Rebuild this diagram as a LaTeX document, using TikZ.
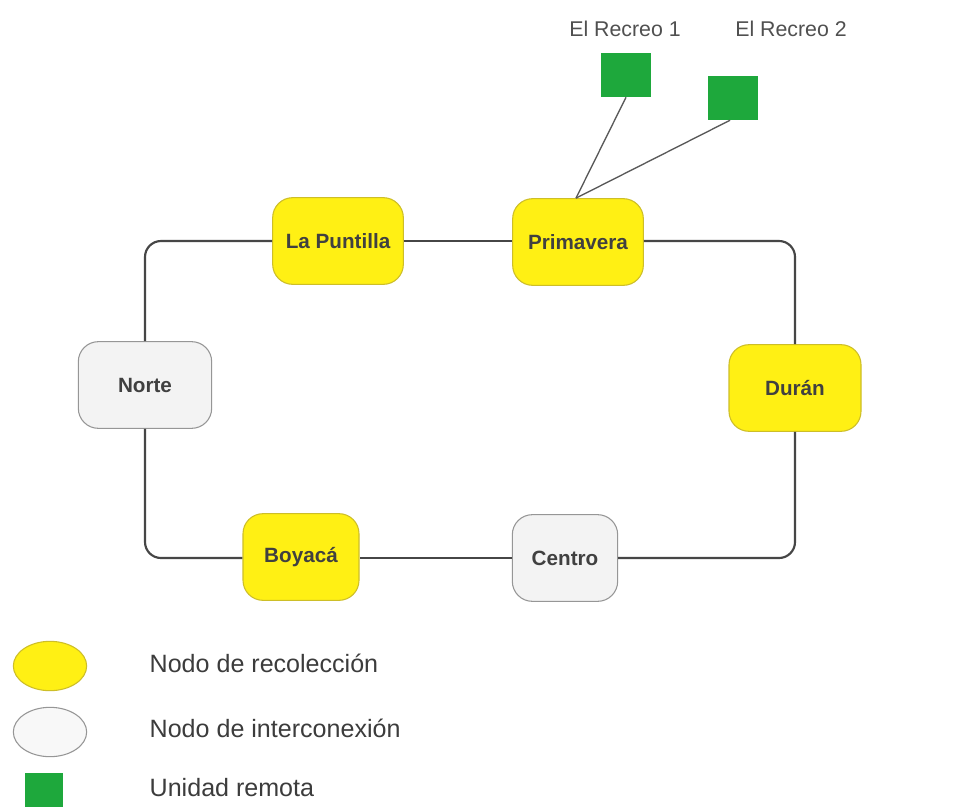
\documentclass[tikz,border=0pt]{standalone}
\usepackage{fontspec}
\setmainfont{Liberation Sans}
\usepackage{xcolor}
\usetikzlibrary{shapes,positioning,calc}

\definecolor{recoleccion}{RGB}{255,240,20}
\definecolor{recolBorde}{RGB}{205,190,40}
\definecolor{interconexion}{RGB}{243,243,243}
\definecolor{interBorde}{RGB}{150,150,150}
\definecolor{remota}{RGB}{30,168,60}
\definecolor{enlace}{RGB}{70,70,70}
\definecolor{texto}{RGB}{60,60,60}

\begin{document}
\begin{tikzpicture}[x=0.75pt, y=-0.75pt,
    recol/.style={draw=recolBorde, line width=0.8pt, fill=recoleccion, rounded corners=15pt,
        minimum height=65pt, font=\fontsize{15.5}{18}\selectfont\bfseries, text=black!75},
    inter/.style={draw=interBorde, line width=0.8pt, fill=interconexion, rounded corners=15pt,
        minimum height=65pt, font=\fontsize{15.5}{18}\selectfont\bfseries, text=black!75},
    remotabox/.style={fill=remota, minimum width=37pt, minimum height=33pt, inner sep=0pt},
    enlacebus/.style={draw=enlace, line width=1.6pt, rounded corners=12pt},
    enlacerem/.style={draw=enlace!90, line width=1pt},
    rotulo/.style={font=\fontsize{16}{19}\selectfont, text=texto!90}]
            \fill[white] (0,0) rectangle (977,806);
            \useasboundingbox (0,0) rectangle (977,806);
            \node (puntilla) at (338,241) [recol, minimum width=98pt] {La Puntilla};
            \node (primavera) at (578,242) [recol, minimum width=98pt] {Primavera};
            \node (norte) at (145,385) [inter, minimum width=100pt] {Norte};
            \node (duran) at (795,388) [recol, minimum width=99pt] {Durán};
            \node (boyaca) at (301,557) [recol, minimum width=87pt] {Boyacá};
            \node (centro) at (565,558) [inter, minimum width=79pt] {Centro};
            \draw[enlacebus] (norte.north) |- (puntilla.west);
            \draw[enlacebus] (puntilla.east) -- (primavera.west |- puntilla.east);
            \draw[enlacebus] (primavera.east |- puntilla.east) -| (duran.north);
            \draw[enlacebus] (duran.south) |- (centro.east);
            \draw[enlacebus] (centro.west) -- (boyaca.east |- centro.west);
            \draw[enlacebus] (boyaca.west |- centro.west) -| (norte.south);
            \node (recreoA) at (626,75) [remotabox] {};
            \node (recreoB) at (733,98) [remotabox] {};
            \node at (625,29) [rotulo] {El Recreo 1};
            \node at (791,29) [rotulo] {El Recreo 2};
            \draw[enlacerem] (recreoA.south) -- ($(primavera.north)+(-2,0)$);
            \draw[enlacerem] ($(recreoB.south)+(-3,0)$) -- ($(primavera.north)+(-2,0)$);
            \node (leyA) at (50,666) [ellipse, draw=recolBorde, line width=0.8pt, fill=recoleccion,
                minimum width=55pt, minimum height=37pt, inner sep=0pt] {};
            \node (leyB) at (50,732) [ellipse, draw=interBorde, line width=0.8pt, fill=interconexion!60,
                minimum width=55pt, minimum height=37pt, inner sep=0pt] {};
            \node (leyC) at (44,790) [fill=remota, minimum width=29pt, minimum height=26pt, inner sep=0pt] {};
            \foreach \y/\texto in {663/Nodo de recolección, 728/Nodo de interconexión, 788/Unidad remota}
                \node at (145,\y) [anchor=west, font=\fontsize{18.8}{22}\selectfont, text=texto] {\texto};
        \end{tikzpicture}
\end{document}
